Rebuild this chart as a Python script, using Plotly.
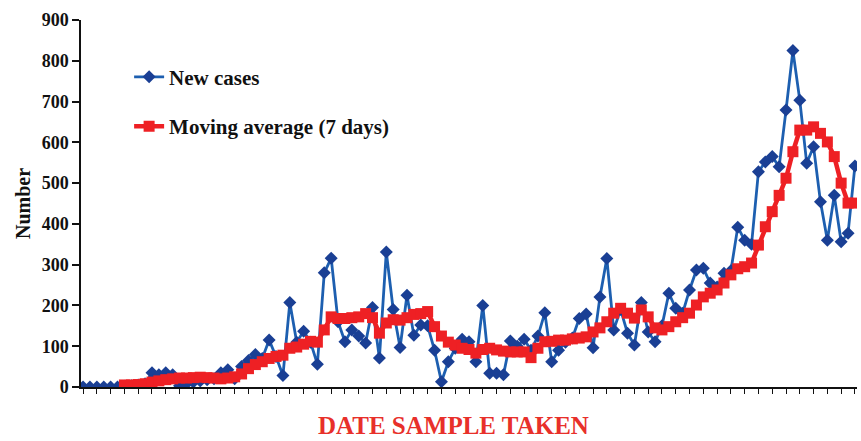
import plotly.graph_objects as go

# Day index (one point per sampling day)
days = list(range(113))

new_cases = [
    0, 0, 0, 0, 0, 0, 2, 3, 5, 8,
    35, 30, 35, 30, 3, 8, 12, 15, 18, 20,
    35, 42, 20, 50, 65, 80, 70, 115, 75, 28,
    207, 110, 137, 110, 56, 280, 316, 160, 111, 140,
    125, 108, 195, 71, 331, 190, 97, 225, 127, 152,
    150, 90, 13, 62, 95, 117, 111, 62, 200, 34,
    34, 30, 113, 100, 117, 90, 125, 182, 62, 90,
    110, 120, 168, 179, 96, 221, 315, 140, 190, 132,
    103, 207, 135, 111, 150, 230, 193, 181, 238, 287,
    291, 255, 245, 279, 285, 392, 360, 350, 528, 552,
    565, 540, 679, 825, 703, 549, 589, 454, 360, 470,
    356, 377, 542,
]

avg_days = list(range(6, 113))
moving_avg = [
    5, 5, 6, 8, 12, 15, 18, 20, 22, 22,
    23, 24, 23, 22, 20, 22, 25, 32, 45, 55,
    62, 70, 75, 78, 95, 98, 105, 112, 110, 140,
    172, 168, 168, 170, 172, 180, 170, 132, 157, 165,
    164, 170, 178, 180, 185, 148, 125, 110, 103, 95,
    92, 83, 92, 95, 91, 88, 86, 86, 86, 72,
    95, 111, 112, 115, 115, 118, 120, 123, 135, 145,
    160, 181, 193, 181, 169, 189, 172, 145, 140, 148,
    160, 170, 181, 201, 221, 230, 238, 255, 275, 290,
    295, 304, 348, 393, 430, 470, 512, 577, 630, 630,
    638, 622, 601, 565, 500, 451, 451,
]

y_ticks = [0, 100, 200, 300, 400, 500, 600, 700, 800, 900]

serif = "Liberation Serif, Times New Roman, serif"

fig = go.Figure()
fig.add_trace(go.Scatter(
    x=days, y=new_cases, mode="lines+markers", name="New cases",
    legendgroup="a",
    line=dict(color="#1d5fb0", width=2.8),
    marker=dict(symbol="diamond", size=10, color="#1a3f94"),
))
fig.add_trace(go.Scatter(
    x=avg_days, y=moving_avg, mode="lines+markers", name="Moving average (7 days)",
    legendgroup="b",
    line=dict(color="#ee2024", width=4.5),
    marker=dict(symbol="square", size=11, color="#ee2024"),
))

fig.add_annotation(
    text="DATE SAMPLE TAKEN", xref="paper", yref="paper",
    x=(453 - 81) / 776, y=-0.105, xanchor="center", yanchor="middle",
    showarrow=False,
    font=dict(family=serif, size=25, color="#e8302a", weight="bold"),
)

fig.update_layout(
    width=861, height=441,
    margin=dict(l=81, r=4, t=20, b=54),
    plot_bgcolor="white", paper_bgcolor="white",
    font=dict(family=serif, color="#111111"),
    showlegend=True,
    legend=dict(
        x=0.062, y=0.90, xanchor="left", yanchor="top",
        bgcolor="rgba(0,0,0,0)",
        font=dict(family=serif, size=21, color="#111111", weight="bold"),
        tracegroupgap=19,
    ),
    xaxis=dict(
        range=[-0.3, 112.3],
        showgrid=False, zeroline=False,
        showline=True, linecolor="#111111", linewidth=1.5,
        ticks="outside", tickcolor="#111111", ticklen=5, tickwidth=1,
        tick0=0, dtick=2,
        showticklabels=False,
    ),
    yaxis=dict(
        range=[0, 900],
        showgrid=False, zeroline=False,
        showline=True, linecolor="#111111", linewidth=1.5,
        ticks="outside", tickcolor="#111111", ticklen=7, tickwidth=1.5,
        tickvals=y_ticks,
        tickfont=dict(family=serif, size=18, color="#111111", weight="bold"),
        title=dict(text="Number",
                   font=dict(family=serif, size=20, color="#111111", weight="bold"),
                   standoff=6),
    ),
)

fig.write_html("out.html", config={"displayModeBar": False})

# remove the browser's default page margin so the figure sits at the window origin
with open("out.html", encoding="utf-8") as f:
    html = f.read()
html = html.replace("<head>", "<head><style>html,body{margin:0;padding:0;}</style>", 1)
with open("out.html", "w", encoding="utf-8") as f:
    f.write(html)
